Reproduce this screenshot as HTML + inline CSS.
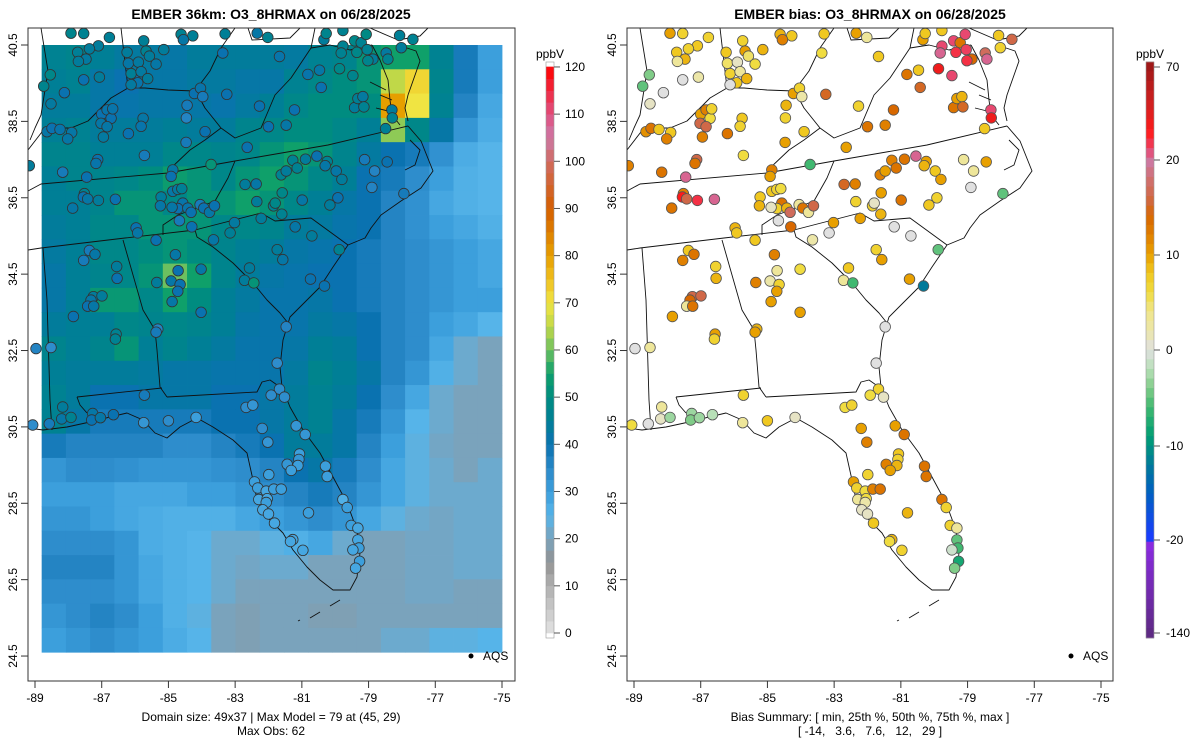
<!DOCTYPE html>
<html><head><meta charset="utf-8"><title>EMBER O3_8HRMAX</title>
<style>
html,body{margin:0;padding:0;background:#fff;}
svg{display:block;font-family:"Liberation Sans",Arial,sans-serif;}
</style></head>
<body>
<svg id="chart" xmlns="http://www.w3.org/2000/svg" width="1200" height="750" viewBox="0 0 1200 750">
<defs>
<clipPath id="clipL"><rect x="28" y="28" width="487" height="653"/></clipPath>
<clipPath id="clipR"><rect x="627" y="28" width="486" height="653"/></clipPath>
</defs>
<rect x="0" y="0" width="1200" height="750" fill="#fff"/>
<text x="271" y="19" text-anchor="middle" font-size="14" font-weight="bold">EMBER 36km: O3_8HRMAX on 06/28/2025</text>
<text x="870" y="19" text-anchor="middle" font-size="14" font-weight="bold">EMBER bias: O3_8HRMAX on 06/28/2025</text>
<g id="gridL" clip-path="url(#clipL)"></g>
<g id="geoL" clip-path="url(#clipL)"></g>
<g id="geoR" clip-path="url(#clipR)"></g>
<g id="dotsL" clip-path="url(#clipL)"></g>
<g id="dotsR" clip-path="url(#clipR)"></g>
<rect x="28" y="28" width="487" height="653" fill="none" stroke="#333" stroke-width="1"/>
<rect x="627" y="28" width="486" height="653" fill="none" stroke="#333" stroke-width="1"/>
<g id="axes"></g>
<g id="cbars"></g>
<g><circle cx="471" cy="656" r="2.5" fill="#000"/><text x="483" y="660" font-size="12">AQS</text></g>
<g><circle cx="1071" cy="656" r="2.5" fill="#000"/><text x="1083" y="660" font-size="12">AQS</text></g>
<text x="271" y="721" text-anchor="middle" font-size="12">Domain size: 49x37 | Max Model = 79 at (45, 29)</text>
<text x="271" y="735" text-anchor="middle" font-size="12">Max Obs: 62</text>
<text x="870" y="721" text-anchor="middle" font-size="12">Bias Summary: [ min, 25th %, 50th %, 75th %, max ]</text>
<text x="870" y="735" text-anchor="middle" font-size="12" xml:space="preserve">[ -14,   3.6,   7.6,   12,   29 ]</text>
</svg>
<script>
// ---------- data ----------
const lonTicks=[-89,-87,-85,-83,-81,-79,-77,-75];
const latTicks=[40.5,38.5,36.5,34.5,32.5,30.5,28.5,26.5,24.5];
const modelTicks=[0,10,20,30,40,50,60,70,80,90,100,110,120];
const biasTicks=[70,20,10,0,-10,-20,-140];
const gridLonRange=[-88.8,-75];
const gridLatRange=[40.5,24.6];
const modelGrid=[
"46 47 45 43 43 42 44 44 44 44 43 46 47 52 55 55 46 38 30",
"45 46 42 40 42 42 43 43 42 42 46 48 50 52 65 72 47 38 30",
"44 44 42 41 42 42 42 41 43 45 48 50 50 50 80 70 46 36 28",
"45 46 44 44 44 45 44 44 47 48 50 50 48 45 62 48 42 32 27",
"47 47 45 45 45 48 48 47 48 52 55 52 47 43 40 38 33 27 25",
"45 47 47 48 50 54 52 48 52 55 52 48 45 40 38 34 30 26 25",
"45 45 47 52 52 48 52 52 55 52 48 45 42 40 36 33 28 26 25",
"44 45 48 48 52 52 52 48 48 47 44 43 41 40 36 33 30 28 26",
"43 45 48 48 50 52 50 47 45 44 42 41 40 38 36 34 32 30 28",
"42 45 47 48 52 60 55 47 44 42 41 40 40 38 36 34 32 30 28",
"42 45 53 53 48 55 50 45 43 41 41 42 40 38 36 34 32 30 30",
"44 45 45 48 47 48 47 45 42 41 41 43 42 40 36 34 30 28 25",
"47 45 47 52 45 47 45 43 41 41 42 45 44 40 36 34 28 22 20",
"45 44 44 44 43 42 42 41 41 41 43 47 45 42 36 32 26 22 20",
"46 44 40 40 42 42 42 40 40 42 44 46 44 40 34 28 22 20 20",
"46 42 38 38 38 38 38 40 40 42 44 46 42 38 32 25 22 20 20",
"38 36 36 36 36 34 34 36 38 40 44 44 42 36 30 24 21 20 20",
"32 34 34 33 32 32 32 33 34 36 40 42 38 34 28 24 22 20 22",
"30 30 30 28 28 28 30 30 32 34 36 38 36 32 28 24 22 22 22",
"32 32 30 28 27 26 26 26 28 30 32 34 32 28 24 22 21 22 22",
"34 34 34 32 27 26 25 22 22 24 26 28 22 20 20 21 21 22 22",
"36 36 36 32 28 26 25 22 21 22 22 20 20 20 20 21 21 22 22",
"34 34 34 32 28 26 25 22 20 20 20 20 20 20 20 21 21 20 20",
"32 34 36 34 30 26 24 20 19 20 20 19 19 20 20 20 20 20 20",
"30 32 34 32 30 27 25 20 19 20 20 20 20 20 22 22 24 24 25"];
const stationLon=[-87.92,-87.54,-86.77,-87.10,-87.37,-87.72,-87.47,-87.70,-88.54,-88.74,-87.54,-87.07,-88.12,-88.52,
-86.24,-85.74,-85.67,-85.14,-86.20,-85.90,-85.57,-85.37,-86.12,-85.82,-85.62,-85.92,-86.12,
-84.62,-84.27,-84.55,-83.30,-82.34,-82.02,-83.37,-81.67,
-84.22,-84.04,-83.97,-83.25,-84.44,-84.46,-82.27,
-80.82,-80.47,-80.42,-79.87,-79.47,
-81.22,-82.00,-81.47,-79.42,-79.32,-79.17,-79.14,-78.30,-78.29,-78.49,
-79.42,-79.22,-79.07,-79.77,-79.82,-79.35,-79.04,-78.87,-79.02,-78.47,-78.42,-78.07,-78.02,-77.67,-80.34,-80.27,-79.77,
-87.00,-86.84,-86.72,-87.02,-86.84,-86.67,
-88.64,-88.49,-88.25,-87.90,-88.02,-86.95,-86.20,-85.76,-85.82,
-83.90,-84.47,
-85.72,-87.12,-87.17,-89.17,-88.17,-87.45,-87.52,-87.55,-87.42,-87.10,-86.59,-87.87,
-84.87,-84.92,-83.72,-82.64,
-84.87,-84.72,-84.60,-85.22,-85.24,-84.57,-84.72,-84.89,-84.42,-84.32,-84.05,-83.94,-83.77,-83.62,-84.67,-84.30,
-85.97,-85.92,
-83.02,-83.15,-83.65,-82.22,
-82.70,-82.37,-82.35,-81.85,-81.80,-81.60,-81.59,-81.62,-81.47,-81.27,-81.14,-80.89,-80.55,-80.24,-80.30,-79.97,-79.80,-80.99,-80.16,-79.92,
-81.20,-80.70,-79.12,-78.82,-78.44,-78.90,-77.94,
-81.74,-81.57,-79.88,-82.57,-82.72,-82.44,-80.74,-80.32,
-87.37,-87.20,-87.54,-86.55,-86.54,-85.37,-84.79,-84.71,-84.02,-85.35,-84.92,-84.65,-84.72,-84.89,-84.02,
-87.25,-86.99,-87.32,-87.42,-87.24,-87.85,-86.57,-86.59,
-88.97,-88.52,
-81.47,-81.74,-85.32,-85.37,
-81.67,-81.92,-81.52,-82.67,-82.47,-85.72,
-88.17,-88.20,-87.92,-87.27,-87.30,-87.04,-86.65,-89.07,-88.57,-85.74,-85.00,-84.17,
-82.19,-82.02,-81.17,-80.90,-81.07,-81.09,-81.12,-81.44,-81.32,-81.99,-80.29,-80.24,
-82.42,-82.32,-82.07,-81.84,-81.62,-82.29,-82.04,-82.07,-82.17,-82.00,-81.82,-80.80,
-79.77,-79.64,-79.52,-79.32,-79.32,-79.29,-79.47,-79.27,-79.39,-81.27,-81.34,-80.97];
const stationLat=[40.81,40.80,40.70,40.48,40.40,40.31,40.13,40.07,39.72,39.42,39.59,39.66,39.25,38.96,
40.31,40.61,40.34,40.38,40.02,40.05,40.21,40.00,39.75,39.80,39.62,39.51,39.46,
40.78,40.74,40.64,40.79,40.81,40.70,40.29,40.20,
39.23,39.37,39.15,39.21,38.92,38.59,38.90,
39.73,39.84,39.39,39.88,39.70,
38.80,38.36,38.40,38.86,39.10,39.15,38.88,38.80,38.59,38.31,
40.61,40.56,40.78,40.47,40.29,40.31,40.38,40.13,40.09,40.29,40.13,40.75,40.43,40.65,40.64,40.80,40.88,
38.69,38.80,38.58,38.45,38.36,38.83,
38.23,38.32,38.29,38.21,38.04,38.09,38.18,38.58,38.37,
38.23,37.95,
37.61,37.50,37.40,37.34,37.17,37.04,36.61,36.52,36.47,36.43,36.46,36.23,
37.23,37.06,37.37,37.82,
36.67,36.72,36.74,36.52,36.29,36.36,36.22,36.25,36.23,36.12,36.32,36.23,36.12,36.29,35.90,35.74,
35.71,35.58,
35.85,35.58,35.40,35.96,
36.85,36.86,36.40,36.29,36.36,36.07,36.63,37.10,37.20,37.48,37.28,37.51,37.59,37.45,37.34,37.20,36.98,36.44,36.31,36.50,
35.74,35.50,37.50,37.20,37.44,36.77,36.61,
35.14,34.88,35.14,34.66,34.34,34.27,34.37,34.19,
35.12,35.02,34.86,34.70,34.39,35.39,35.01,34.59,34.63,34.28,34.32,34.23,34.05,33.78,33.50,
33.91,33.93,33.82,33.66,33.66,33.39,32.93,32.80,
32.55,32.58,
33.12,32.17,33.06,32.98,
31.49,31.33,31.28,31.01,31.07,31.33,
31.02,30.71,30.75,30.85,30.68,30.74,30.82,30.55,30.58,30.61,30.66,30.75,
30.46,30.10,30.53,30.30,29.79,29.65,29.49,29.52,29.36,29.25,29.47,29.20,
29.06,28.90,28.82,28.87,28.87,28.60,28.62,28.52,28.33,28.22,27.98,28.25,
28.60,28.39,27.92,27.85,27.54,27.33,27.28,26.98,26.80,27.55,27.50,27.27];
const stationObs=[47,46,45,44,44,45,43,44,48,47,40,44,40,43,
44,45,46,44,42,43,44,42,45,43,44,41,43,
46,45,42,45,42,46,40,41,
40,41,38,40,38,36,40,
41,42,40,48,47,
40,40,42,44,45,43,46,44,46,45,
48,46,49,46,46,48,46,44,47,43,46,45,44,46,44,47,46,
40,41,40,42,42,41,
42,40,41,42,42,43,40,42,41,
40,38,
38,40,41,44,38,40,46,40,42,44,40,42,
42,40,52,40,
42,43,45,44,42,41,40,42,41,40,38,40,42,40,38,40,
40,42,
43,45,42,44,
44,42,44,46,48,46,48,46,44,46,46,44,40,46,42,42,44,42,44,40,
42,44,38,36,40,36,38,
44,42,46,44,44,52,40,40,
38,42,38,44,40,40,42,40,42,44,42,40,40,42,40,
44,44,42,40,42,40,46,46,
36,34,
36,34,36,38,
34,34,34,34,32,38,
44,42,46,42,40,42,40,34,38,32,34,30,
34,32,32,32,30,32,30,32,30,30,30,30,
30,30,28,30,30,28,28,30,28,28,28,30,
26,30,30,28,28,30,28,30,28,28,28,28];
const stationBias=[10,7,7,8,7,8,9,3,-4,-5,0,2,0,1,
8,7,10,9,5,1,5,6,7,3,9,8,0,
9,8,12,8,10,3,6,8,
10,7,2,15,9,7,7,
13,8,15,40,25,
14,13,12,13,10,9,15,25,40,8,
25,13,25,25,22,30,27,14,30,17,22,8,7,16,10,8,8,
10,12,6,16,16,7,
11,13,8,8,12,12,13,8,7,
8,10,
6,16,13,12,13,22,12,35,16,30,22,13,
12,10,-6,10,
8,7,6,8,9,13,7,1,9,17,3,13,3,16,0,14,
9,8,
10,0,2,10,
15,12,7,7,1,9,10,12,10,12,13,13,22,10,9,8,10,13,8,7,
0,0,3,3,10,0,-5,
7,10,-5,8,3,-6,10,-12,
8,13,12,7,9,8,12,3,6,12,2,7,10,10,10,
16,16,14,3,13,10,10,7,
0,3,
0,0,9,10,
7,6,1,6,7,7,
3,1,-3,-3,-4,-3,-2,6,0,3,8,1,
10,12,10,13,8,7,9,12,10,7,13,13,
10,7,6,12,13,3,6,2,1,1,8,9,
13,7,7,3,-5,-6,-1,-8,-4,9,6,7];

// ---------- scales ----------
const NS='http://www.w3.org/2000/svg';
function xL(lon){return 35+(lon+89)*33.357;}
function yS(lat){return 45+(40.5-lat)*38.19;}
const RX=599;
function mk(tag,attrs,parent){const e=document.createElementNS(NS,tag);for(const k in attrs)e.setAttribute(k,attrs[k]);parent.appendChild(e);return e;}
function hex2rgb(h){return [parseInt(h.substr(1,2),16),parseInt(h.substr(3,2),16),parseInt(h.substr(5,2),16)];}
function interp(stops,v){
  if(v<=stops[0][0])return stops[0][1];
  if(v>=stops[stops.length-1][0])return stops[stops.length-1][1];
  for(let i=0;i<stops.length-1;i++){const a=stops[i],b=stops[i+1];
    if(v>=a[0]&&v<=b[0]){const t=(v-a[0])/(b[0]-a[0]);const c1=hex2rgb(a[1]),c2=hex2rgb(b[1]);
      return 'rgb('+c1.map((c,j)=>Math.round(c+(c2[j]-c)*t)).join(',')+')';}}
}
const modelStops=[[0,'#e2e2e2'],[10,'#b0b0b0'],[15,'#929292'],[20,'#7aa3bc'],[25,'#56b4e9'],[30,'#3c9fdc'],[35,'#2a88c8'],[40,'#0a72b0'],[45,'#007f96'],[50,'#008c80'],[55,'#0fa06a'],[60,'#6cc060'],[65,'#c0d848'],[70,'#f0e442'],[75,'#f0c020'],[80,'#e69f00'],[90,'#d55e00'],[100,'#d06a60'],[105,'#cc79a7'],[110,'#e05080'],[120,'#ff0000']];
const biasStops=[[-140,'#5e2a84'],[-25,'#8a2be2'],[-20,'#1a3cff'],[-15,'#0060c0'],[-12,'#007a9a'],[-9,'#009e73'],[-6,'#40b870'],[-4,'#80cc88'],[-2,'#b8e0b8'],[0,'#e0e0e0'],[2,'#ece6a8'],[4,'#f0e68c'],[6,'#f0dc40'],[8,'#f0c820'],[10,'#e8a000'],[12,'#e08000'],[14,'#d86800'],[16,'#d06848'],[18,'#d07070'],[20,'#cc79a7'],[25,'#e84870'],[35,'#ff1a1a'],[50,'#d02020'],[70,'#a01818']];
function mColor(v){return interp(modelStops,v);}
function bColor(v){return interp(biasStops,v);}

// ---------- model grid ----------
const gL=document.getElementById('gridL');
const rowsN=modelGrid.length;
const dLat=(gridLatRange[0]-gridLatRange[1])/rowsN;
modelGrid.forEach((row,r)=>{
  const vals=row.trim().split(/\s+/).map(Number);
  const dLon=(gridLonRange[1]-gridLonRange[0])/vals.length;
  vals.forEach((v,c)=>{
    const lon0=gridLonRange[0]+c*dLon, lat0=gridLatRange[0]-r*dLat;
    const x0=xL(lon0),x1=xL(lon0+dLon),y0=yS(lat0),y1=yS(lat0-dLat);
    const e=mk('rect',{x:x0.toFixed(2),y:y0.toFixed(2),width:(x1-x0+0.4).toFixed(2),height:(y1-y0+0.4).toFixed(2),fill:mColor(v)},gL);
    
    
  });
});

// ---------- geography (left-panel pixel space) ----------
const geoLines=[
[[398,45],[416,51],[420,61],[408,95],[405,108],[408,121]],
[[372,45],[380,60],[388,80],[390,100],[392,115],[400,125]],
[[380,95],[392,100]],[[376,108],[392,112]],[[370,82],[386,90]],
[[408,126],[421,141],[433,171],[421,188],[401,201],[381,215],[371,228],[365,238],[348,245],[333,267],[320,287],[300,307],[290,317],[283,340],[280,367],[282,387],[290,407],[303,430],[320,453],[333,477],[347,503],[357,530],[360,553],[357,577],[350,590],[333,590],[320,580],[307,567],[293,550],[283,533],[267,517],[257,500],[253,480],[247,453],[233,440],[213,427],[197,418],[180,427],[167,438],[155,433],[143,420],[127,413],[110,417],[90,422],[67,427],[43,430],[28,428]],
[[340,600],[330,606]],[[320,612],[310,618]],[[300,620],[298,621]],
[[410,140],[420,150],[415,165],[405,170]],
[[28,191],[41,184],[168,173],[235,161],[328,145],[408,126]],
[[235,161],[228,178],[215,201],[178,215],[163,225],[163,235]],
[[28,250],[41,248],[125,238],[195,230],[261,213],[275,221],[311,218],[348,245]],
[[195,230],[197,237],[213,247],[233,263],[253,283],[267,300],[280,313],[288,323]],
[[123,240],[143,310],[155,330],[157,350],[160,387],[167,397]],
[[167,397],[257,392],[262,382],[270,380],[280,387]],
[[77,397],[162,388]],
[[77,397],[80,405],[87,413]],
[[43,248],[47,300],[50,400],[52,430]],
[[171,168],[190,150],[205,140],[221,128]],
[[221,128],[235,138],[261,128],[275,95],[291,78],[311,48],[315,28]],
[[221,128],[205,108],[198,95],[195,91]],
[[28,150],[45,128],[71,128],[88,121],[111,98],[128,88],[145,88],[168,90],[195,91],[210,71],[221,48],[235,28]],
[[121,28],[128,88]],
[[41,28],[48,71],[41,115],[35,128],[30,140]],
[[311,48],[330,45],[350,50],[372,45]],
[[248,28],[252,40],[290,38],[300,28]],
[[370,28],[398,40],[420,36],[428,28]]
];
function drawGeo(g,dx){
  geoLines.forEach(l=>{
    const e=mk('polyline',{points:l.map(p=>(p[0]+dx)+','+p[1]).join(' '),fill:'none',stroke:'#111','stroke-width':'0.9','stroke-linejoin':'round'},g);
    
    
  });
}
drawGeo(document.getElementById('geoL'),0);
drawGeo(document.getElementById('geoR'),RX);

// ---------- stations ----------
const dL=document.getElementById('dotsL'),dR=document.getElementById('dotsR');
stationLon.forEach((lon,i)=>{
  const x=xL(lon),y=yS(stationLat[i]);
  const o=stationObs[i]!==undefined?stationObs[i]:42;
  const b=stationBias[i]!==undefined?stationBias[i]:5;
  const c1=mk('circle',{cx:x.toFixed(1),cy:y.toFixed(1),r:'5.3',fill:mColor(o),stroke:'#333','stroke-width':'0.8'},dL);
  
  
  const c2=mk('circle',{cx:(x+RX).toFixed(1),cy:y.toFixed(1),r:'5.3',fill:bColor(b),stroke:'#555','stroke-width':'0.8'},dR);
  
  
});

// ---------- axes ----------
const ax=document.getElementById('axes');
[0,RX].forEach((dx,pi)=>{
  lonTicks.forEach(t=>{
    const x=xL(t)+dx;
    const l=mk('line',{x1:x,y1:681,x2:x,y2:688,stroke:'#333'},ax);
    
    
    const tx=mk('text',{x:x,y:702,'text-anchor':'middle','font-size':'12'},ax);
    tx.textContent=t;
    
    
  });
  latTicks.forEach(t=>{
    const y=yS(t);
    const l=mk('line',{x1:28+dx,y1:y,x2:21+dx,y2:y,stroke:'#333'},ax);
    
    
    const tx=mk('text',{x:0,y:0,'text-anchor':'middle','font-size':'12',transform:'translate('+(17+dx)+','+y+') rotate(-90)'},ax);
    tx.textContent=t.toFixed(1);
    
    
  });
});

// ---------- colorbars ----------
const cb=document.getElementById('cbars');
function cbModelY(v){return 633-v*4.717;}
for(let v=0;v<120;v+=2.5){
  const e=mk('rect',{x:546,y:cbModelY(v+2.5)-0.3,width:8,height:(2.5*4.717+0.6),fill:mColor(v+1.25)},cb);
  
  
}
mk('rect',{x:546,y:62,width:8,height:576,fill:'none',stroke:'#999','stroke-width':'0.6'},cb);
modelTicks.forEach(t=>{
  const y=cbModelY(t);
  const l=mk('line',{x1:554,y1:y,x2:560,y2:y,stroke:'#555'},cb);
  
  
  const tx=mk('text',{x:565,y:y+4,'font-size':'12'},cb);
  tx.textContent=t;
  
  
});
const u1=mk('text',{x:550,y:58,'text-anchor':'middle','font-size':'12'},cb);u1.textContent='ppbV';


const biasTickY=[67,160,255,350,446,540,633];
function biasValAtY(y){
  for(let i=0;i<biasTicks.length-1;i++){
    if(y>=biasTickY[i]&&y<=biasTickY[i+1]){const t=(y-biasTickY[i])/(biasTickY[i+1]-biasTickY[i]);return biasTicks[i]+(biasTicks[i+1]-biasTicks[i])*t;}
  }
  return y<biasTickY[0]?biasTicks[0]:biasTicks[biasTicks.length-1];
}
for(let y=62;y<638;y+=9.6){
  const e=mk('rect',{x:1146,y:y-0.3,width:8,height:10.2,fill:bColor(biasValAtY(y+4.8))},cb);
  
  
}
mk('rect',{x:1146,y:62,width:8,height:576,fill:'none',stroke:'#999','stroke-width':'0.6'},cb);
biasTicks.forEach((t,i)=>{
  const y=biasTickY[i];
  const l=mk('line',{x1:1154,y1:y,x2:1160,y2:y,stroke:'#555'},cb);
  
  
  const tx=mk('text',{x:1166,y:y+4,'font-size':'12'},cb);
  tx.textContent=t;
  
  
});
const u2=mk('text',{x:1150,y:58,'text-anchor':'middle','font-size':'12'},cb);u2.textContent='ppbV';


</script>
</body></html>
